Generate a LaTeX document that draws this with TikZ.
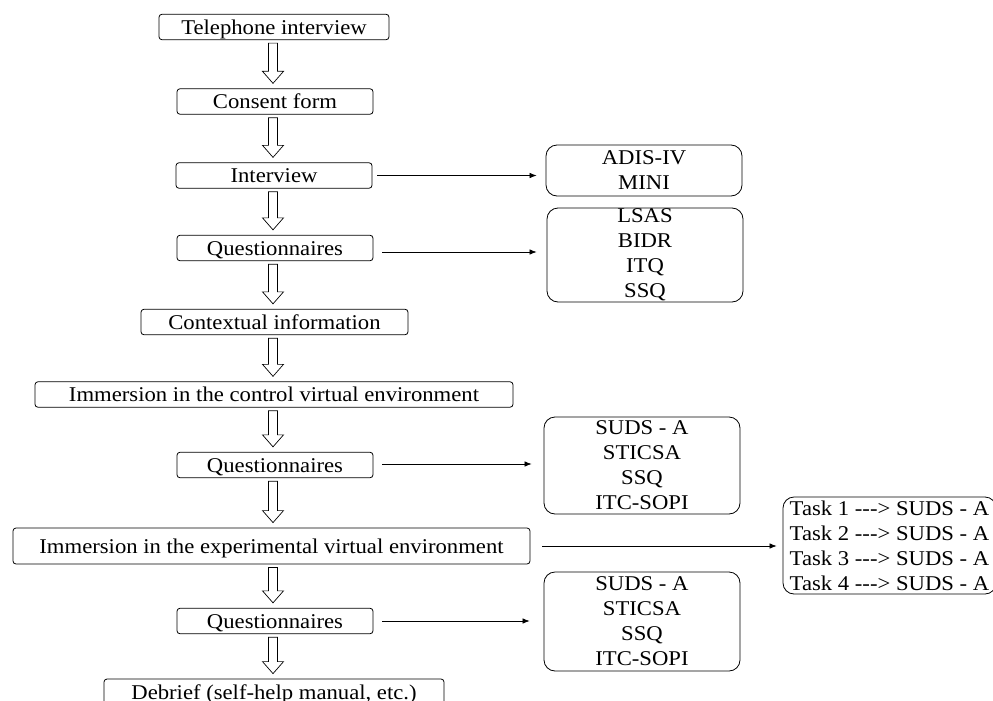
\documentclass[tikz,border=0pt]{standalone}
\usepackage{fontspec}
\setmainfont{Liberation Serif}[FakeStretch=1.08]
\usetikzlibrary{arrows.meta,calc}
\tikzset{
  flowbox/.style={draw, line width=0.8pt, rounded corners=3pt, inner sep=0pt,
    text height=20pt, text depth=5.5pt, font=\fontsize{21}{25}\selectfont},
  listbox/.style={draw, line width=0.8pt, rounded corners=11pt, inner sep=0pt,
    align=center, font=\fontsize{21}{25}\selectfont},
  blockarr/.style={draw, fill=white, line width=0.7pt, line join=miter},
  link/.style={line width=0.7pt, -{Latex[length=7pt,width=5.5pt]}},
}
\newcommand\flowarrow[2]{%
  \path[blockarr] let \p1=(#1.south), \p2=(#2.north) in
    (268.5pt,\y1-3pt) -- (277.5pt,\y1-3pt) -- (277.5pt,\y2+17pt) -- (283.5pt,\y2+17pt)
    -- (273pt,\y2+5pt) -- (262.5pt,\y2+17pt) -- (268.5pt,\y2+17pt) -- cycle;}
\begin{document}
\begin{tikzpicture}[x=1pt,y=-1pt]
\useasboundingbox (0,0) rectangle (993,701);
% main column
\node[flowbox, minimum width=230pt] (tel) at (274,27) {Telephone interview};
\node[flowbox, minimum width=196pt] (cons) at (275,101.5) {Consent form};
\node[flowbox, minimum width=196pt] (intv) at (274,175.5) {Interview};
\node[flowbox, minimum width=196pt] (q1) at (275,248) {Questionnaires};
\node[flowbox, minimum width=267pt] (ctx) at (274.5,322) {Contextual information};
\node[flowbox, minimum width=478pt] (ictl) at (274,394.5) {Immersion in the control virtual environment};
\node[flowbox, minimum width=196pt] (q2) at (275,465) {Questionnaires};
\node[flowbox, minimum width=517pt, text height=25pt, text depth=11pt] (exp) at (271.5,546) {Immersion in the experimental virtual environment};
\node[flowbox, minimum width=196pt] (q3) at (275,621) {Questionnaires};
\node[flowbox, minimum width=340pt] (deb) at (274,691.75) {Debrief (self-help manual, etc.)};
% side boxes
\node[listbox, minimum width=196pt, minimum height=51pt] (adis) at (644,170.5) {ADIS-IV\\MINI};
\node[listbox, minimum width=196pt, minimum height=94pt] (lsas) at (645,255) {LSAS\\BIDR\\ITQ\\SSQ};
\node[listbox, minimum width=196pt, minimum height=97pt] (suds1) at (642,465.5) {SUDS - A\\STICSA\\SSQ\\ITC-SOPI};
\node[listbox, minimum width=213pt, minimum height=97pt, align=left] (task) at (889.5,545.5)
  {Task 1 -{}-{}-> SUDS - A\\Task 2 -{}-{}-> SUDS - A\\Task 3 -{}-{}-> SUDS - A\\Task 4 -{}-{}-> SUDS - A};
\node[listbox, minimum width=196pt, minimum height=99pt] (suds2) at (642,621.5) {SUDS - A\\STICSA\\SSQ\\ITC-SOPI};
% block arrows
\flowarrow{tel}{cons}
\flowarrow{cons}{intv}
\flowarrow{intv}{q1}
\flowarrow{q1}{ctx}
\flowarrow{ctx}{ictl}
\flowarrow{ictl}{q2}
\flowarrow{q2}{exp}
\flowarrow{exp}{q3}
\flowarrow{q3}{deb}
% side links
\draw[link, shorten <=5pt, shorten >=9pt] (intv.east) -- (intv.east -| adis.west);
\draw[link, shorten <=9pt, shorten >=10pt] ([yshift=-4pt]q1.east) -- ([yshift=-4pt]q1.east -| lsas.west);
\draw[link, shorten <=9pt, shorten >=12pt] ([yshift=1pt]q2.east) -- ([yshift=1pt]q2.east -| suds1.west);
\draw[link, shorten <=12pt, shorten >=6pt] (exp.east) -- (exp.east -| task.west);
\draw[link, shorten <=9pt, shorten >=14pt] (q3.east) -- (q3.east -| suds2.west);
\end{tikzpicture}
\end{document}
